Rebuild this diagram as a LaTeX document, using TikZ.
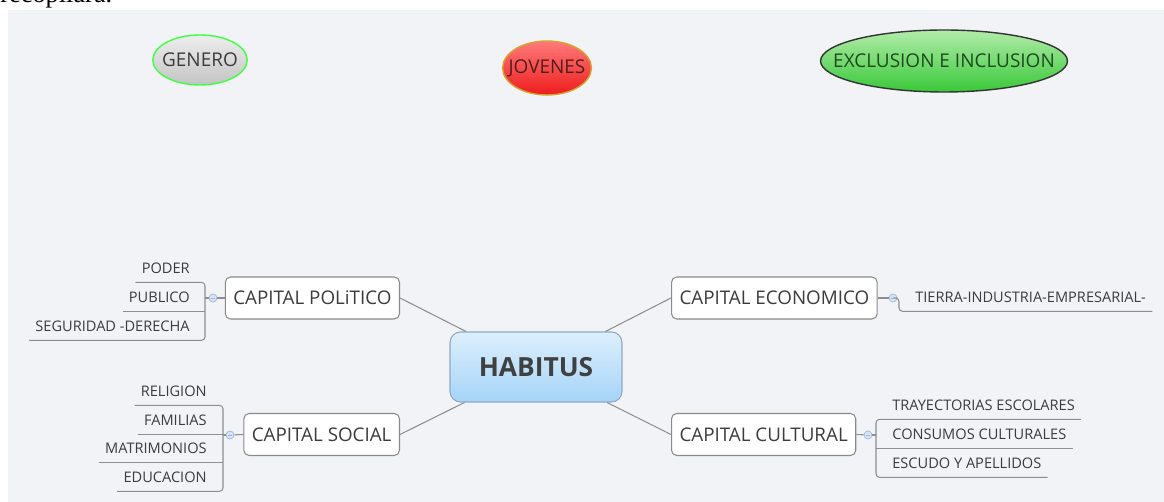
\documentclass[tikz,border=0pt]{standalone}
\usepackage{fontspec}
\setmainfont{Open Sans}
\newfontfamily\docserif{Liberation Serif}
\usetikzlibrary{shapes.geometric}
\definecolor{bggray}{HTML}{F2F3F7}
\definecolor{txtgray}{HTML}{3C3C3C}
\definecolor{linegray}{HTML}{8E8E8E}
\definecolor{boxgray}{HTML}{8A8A8A}
\definecolor{knobfill}{HTML}{D6E4F5}
\definecolor{knobdraw}{HTML}{9DB8DA}
\tikzset{
	capital/.style={draw=boxgray, fill=white, rounded corners=3pt, line width=0.6pt,
		minimum height=0.84cm, inner xsep=0.16cm, text=txtgray,
		font=\fontsize{10.7}{12}\selectfont},
	leaf/.style={minimum height=0.56cm, inner ysep=0pt, inner xsep=0.12cm,
		text=txtgray, font=\fontsize{8.3}{10}\selectfont},
	knob/.style={circle, draw=knobdraw, fill=knobfill, minimum size=0.16cm,
		inner sep=0pt, line width=0.4pt},
	link/.style={draw=linegray, line width=0.6pt},
	topic/.style={ellipse, line width=0.8pt, inner ysep=0pt,
		font=\fontsize{10.8}{12}\selectfont}
}
\begin{document}
\begin{tikzpicture}[x=0.02cm, y=-0.02cm]
		\useasboundingbox (0,0) rectangle (1164,502);
		\clip (0,0) rectangle (1164,502);
		\fill[bggray] (8,10) rectangle (1164,502);
		\node[anchor=base west, inner sep=0pt, font=\docserif\fontsize{15}{18}\selectfont] (RECOP) at (0,3) {recopilara.};
		% free topics
		\node[topic, draw=green!75!white, top color=black!7, bottom color=black!23,
			inner xsep=-0.09cm, minimum height=1cm, text=txtgray] (GENERO) at (200,60) {GENERO};
		\node[topic, draw=brown!70!yellow, top color={rgb,255:red,255;green,122;blue,122},
			bottom color={rgb,255:red,238;green,28;blue,28}, inner xsep=-0.14cm,
			minimum height=1.08cm, text={rgb,255:red,80;green,30;blue,30}] (JOVENES) at (547,68) {JOVENES};
		\node[topic, draw=black!80, top color={rgb,255:red,178;green,236;blue,170},
			bottom color={rgb,255:red,56;green,200;blue,56}, inner xsep=-0.47cm,
			minimum height=1.24cm, text={rgb,255:red,30;green,74;blue,30}] (EXCLUSION) at (944,61) {EXCLUSION E INCLUSION};
		% central topic
		\node[draw={rgb,255:red,143;green,169;blue,196}, rounded corners=6pt, line width=0.6pt,
			top color={rgb,255:red,221;green,239;blue,253}, bottom color={rgb,255:red,165;green,212;blue,248},
			minimum width=3.44cm, minimum height=1.4cm, text={rgb,255:red,64;green,64;blue,64},
			font=\fontsize{15}{18}\selectfont\bfseries] (HABITUS) at (536,367) {HABITUS};
		% main branches
		\node[capital, anchor=east] (CAP_POL) at (400,298) {CAPITAL POLiTICO};
		\node[capital, anchor=west] (CAP_ECO) at (671,298) {CAPITAL ECONOMICO};
		\node[capital, anchor=east] (CAP_SOC) at (400,434.5) {CAPITAL SOCIAL};
		\node[capital, anchor=west] (CAP_CUL) at (671,434.5) {CAPITAL CULTURAL};
		\draw[link] (HABITUS) -- (CAP_POL.east);
		\draw[link] (HABITUS) -- (CAP_ECO.west);
		\draw[link] (HABITUS) -- (CAP_SOC.east);
		\draw[link] (HABITUS) -- (CAP_CUL.west);
		% politico
		\node[knob] (K_POL) at (213,298) {};
		\coordinate (B_POL) at (205,298);
		\node[leaf, anchor=east] (PODER) at (196,268) {PODER};
		\node[leaf, anchor=east] (PUBLICO) at (196,297) {PUBLICO};
		\node[leaf, anchor=east] (SEGURIDAD) at (196,326) {SEGURIDAD -DERECHA};
		\draw[link] (CAP_POL.west) -- (K_POL);
		\draw[link] (K_POL) -- (B_POL);
		\draw[link, rounded corners=2pt] (PODER.south west) -- (PODER.south west -| B_POL)
			-- (SEGURIDAD.south west -| B_POL) -- (SEGURIDAD.south west);
		\draw[link] (PUBLICO.south west) -- (PUBLICO.south west -| B_POL);
		% social
		\node[knob] (K_SOC) at (230,435) {};
		\coordinate (B_SOC) at (223,435);
		\node[leaf, anchor=east] (RELIGION) at (213,391) {RELIGION};
		\node[leaf, anchor=east] (FAMILIAS) at (213,420) {FAMILIAS};
		\node[leaf, anchor=east] (MATRIMONIOS) at (213,448) {MATRIMONIOS};
		\node[leaf, anchor=east] (EDUCACION) at (213,477) {EDUCACION};
		\draw[link] (CAP_SOC.west) -- (K_SOC);
		\draw[link] (K_SOC) -- (B_SOC);
		\draw[link, rounded corners=2pt] (RELIGION.south west) -- (RELIGION.south west -| B_SOC)
			-- (EDUCACION.south west -| B_SOC) -- (EDUCACION.south west);
		\draw[link] (FAMILIAS.south west) -- (FAMILIAS.south west -| B_SOC);
		\draw[link] (MATRIMONIOS.south west) -- (MATRIMONIOS.south west -| B_SOC);
		% economico
		\node[knob] (K_ECO) at (893,298) {};
		\coordinate (B_ECO) at (899,298);
		\node[leaf, anchor=west] (TIERRA) at (909,297) {TIERRA-INDUSTRIA-EMPRESARIAL-};
		\draw[link] (CAP_ECO.east) -- (K_ECO);
		\draw[link, rounded corners=2pt] (K_ECO) -- (B_ECO) -- (B_ECO |- TIERRA.south) -- (TIERRA.south east);
		% cultural
		\node[knob] (K_CUL) at (868,435) {};
		\coordinate (B_CUL) at (876,435);
		\node[leaf, anchor=west] (TRAYECTORIAS) at (886,405) {TRAYECTORIAS ESCOLARES};
		\node[leaf, anchor=west] (CONSUMOS) at (886,434) {CONSUMOS CULTURALES};
		\node[leaf, anchor=west] (ESCUDO) at (886,463) {ESCUDO Y APELLIDOS};
		\draw[link] (CAP_CUL.east) -- (K_CUL);
		\draw[link] (K_CUL) -- (B_CUL);
		\draw[link, rounded corners=2pt] (TRAYECTORIAS.south east) -- (TRAYECTORIAS.south east -| B_CUL)
			-- (ESCUDO.south east -| B_CUL) -- (ESCUDO.south east);
		\draw[link] (CONSUMOS.south east) -- (CONSUMOS.south east -| B_CUL);
		% minus signs on the knobs
		\foreach \k in {K_POL,K_SOC,K_ECO,K_CUL}
			\draw[knobdraw, line width=0.5pt] ([xshift=-1.3pt]\k.center) -- ([xshift=1.3pt]\k.center);
\end{tikzpicture}
\end{document}
